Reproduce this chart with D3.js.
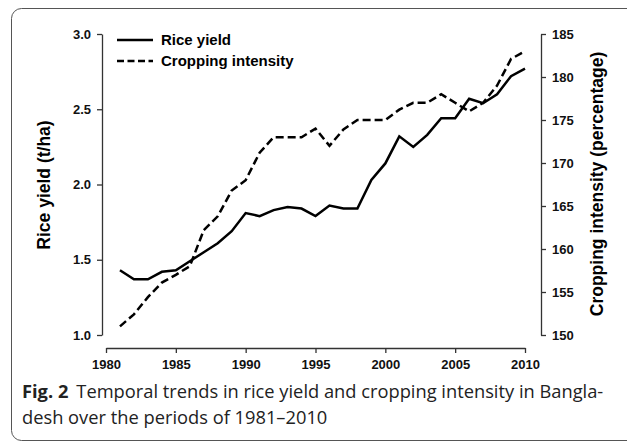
<!DOCTYPE html>
<html>
<head>
<meta charset="utf-8">
<script src="https://cdn.jsdelivr.net/npm/d3@7"></script>
<style>
  body { margin: 0; background: #fff; }
  .axis text { font-family: "Liberation Sans", Arial, sans-serif; font-weight: bold; font-size: 13px; fill: #111; }
  .axis path, .axis line { stroke: #333; stroke-width: 1.3; }
</style>
</head>
<body>
<div id="chart"></div>
<script>
// Years and series
var years = d3.range(1981, 2011);
var riceYield = [1.43, 1.37, 1.37, 1.42, 1.43, 1.49, 1.55, 1.61, 1.69, 1.81,
                 1.79, 1.83, 1.85, 1.84, 1.79, 1.86, 1.84, 1.84, 2.03, 2.14,
                 2.32, 2.25, 2.33, 2.44, 2.44, 2.57, 2.54, 2.60, 2.72, 2.77];
var croppingIntensity = [151.0, 152.4, 154.4, 156.1, 157.0, 158.0, 162.2, 163.8, 166.8, 168.0,
                         171.2, 173.0, 173.0, 173.0, 174.0, 172.0, 173.9, 175.0, 175.0, 175.0,
                         176.2, 177.0, 177.0, 178.0, 177.0, 176.0, 177.0, 179.0, 182.1, 183.0];
var yearTicks = [1980, 1985, 1990, 1995, 2000, 2005, 2010];
var yieldTicks = [1.0, 1.5, 2.0, 2.5, 3.0];
var intensityTicks = [150, 155, 160, 165, 170, 175, 180, 185];

var width = 627, height = 442;

var svg = d3.select("#chart").append("svg")
    .attr("width", width)
    .attr("height", height);

// Figure frame (rounded, runs off the right edge)
svg.append("rect")
    .attr("x", 11.5).attr("y", 8.5)
    .attr("width", 640).attr("height", 432)
    .attr("rx", 10)
    .attr("fill", "none")
    .attr("stroke", "#555")
    .attr("stroke-width", 1);

// Scales
var x = d3.scaleLinear().domain([1980, 2010]).range([106, 525]);
var yL = d3.scaleLinear().domain([1, 3]).range([335, 34]);
var yR = d3.scaleLinear().domain([150, 185]).range([335, 34]);

// Axes
svg.append("g")
    .attr("class", "axis")
    .attr("transform", "translate(102,0)")
    .call(d3.axisLeft(yL).tickValues(yieldTicks).tickFormat(d3.format(".1f"))
        .tickSize(5).tickSizeOuter(0).tickPadding(6));

svg.append("g")
    .attr("class", "axis")
    .attr("transform", "translate(541,0)")
    .call(d3.axisRight(yR).tickValues(intensityTicks)
        .tickSize(5).tickSizeOuter(0).tickPadding(6));

svg.append("g")
    .attr("class", "axis")
    .attr("transform", "translate(0,348)")
    .call(d3.axisBottom(x).tickValues(yearTicks).tickFormat(d3.format("d"))
        .tickSize(5).tickSizeOuter(0).tickPadding(7));

// Axis titles
svg.append("text")
    .attr("transform", "translate(50,185) rotate(-90)")
    .attr("text-anchor", "middle")
    .attr("font-family", "Liberation Sans, Arial, sans-serif")
    .attr("font-weight", "bold")
    .attr("font-size", 17.5)
    .text("Rice yield (t/ha)");

svg.append("text")
    .attr("transform", "translate(603,184) rotate(-90)")
    .attr("text-anchor", "middle")
    .attr("font-family", "Liberation Sans, Arial, sans-serif")
    .attr("font-weight", "bold")
    .attr("font-size", 17.5)
    .text("Cropping intensity (percentage)");

// Lines
var yieldLine = d3.line()
    .x(function(d, i) { return x(years[i]); })
    .y(function(d) { return yL(d); });
var intensityLine = d3.line()
    .x(function(d, i) { return x(years[i]); })
    .y(function(d) { return yR(d); });

svg.append("path")
    .datum(croppingIntensity)
    .attr("d", intensityLine)
    .attr("fill", "none")
    .attr("stroke", "#000")
    .attr("stroke-width", 2.5)
    .attr("stroke-dasharray", "8,4");

svg.append("path")
    .datum(riceYield)
    .attr("d", yieldLine)
    .attr("fill", "none")
    .attr("stroke", "#000")
    .attr("stroke-width", 2.5);

// Legend
var legend = svg.append("g")
    .attr("font-family", "Liberation Sans, Arial, sans-serif")
    .attr("font-weight", "bold")
    .attr("font-size", 15);

legend.append("line")
    .attr("x1", 117).attr("x2", 153).attr("y1", 40).attr("y2", 40)
    .attr("stroke", "#000").attr("stroke-width", 2.5);
legend.append("text").attr("x", 161).attr("y", 45).text("Rice yield");

legend.append("line")
    .attr("x1", 117).attr("x2", 153).attr("y1", 61).attr("y2", 61)
    .attr("stroke", "#000").attr("stroke-width", 2.5)
    .attr("stroke-dasharray", "7,3.5");
legend.append("text").attr("x", 161).attr("y", 66).text("Cropping intensity");

// Caption
var caption = svg.append("text")
    .attr("font-family", "Open Sans, Noto Sans, sans-serif")
    .attr("font-size", 18.3)
    .attr("fill", "#222");

caption.append("tspan").attr("x", 22).attr("y", 398)
    .attr("font-weight", "bold").text("Fig. 2");
caption.append("tspan").attr("dx", 8)
    .text("Temporal trends in rice yield and cropping intensity in Bangla-");
caption.append("tspan").attr("x", 22).attr("y", 424)
    .text("desh over the periods of 1981\u20132010");
</script>
</body>
</html>
